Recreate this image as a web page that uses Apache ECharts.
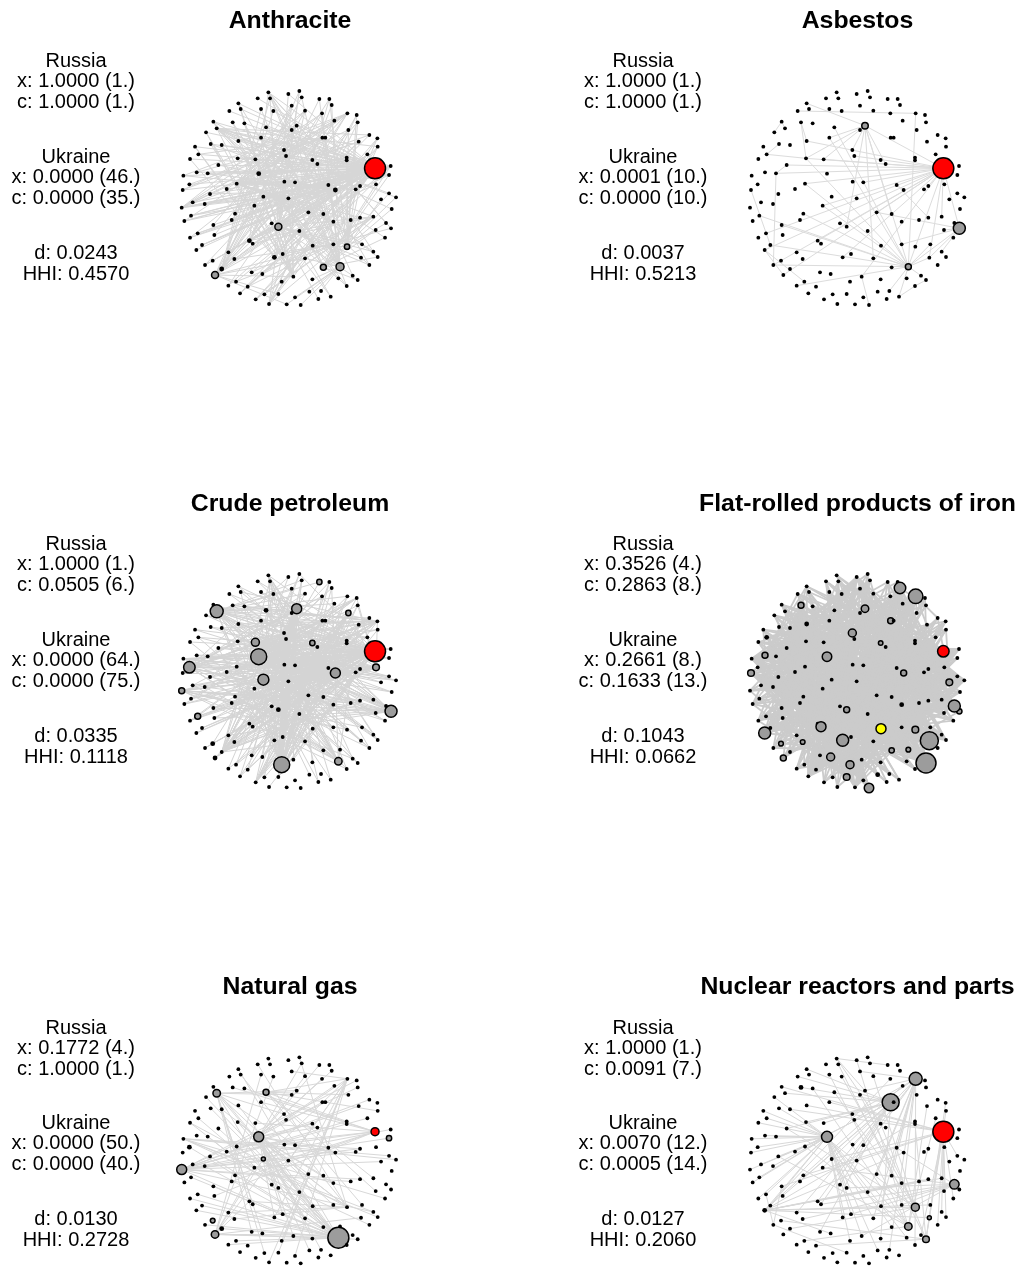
<!DOCTYPE html>
<html>
<head>
<meta charset="utf-8">
<script src="https://cdn.jsdelivr.net/npm/echarts@6/dist/echarts.min.js"></script>
<style>
html,body{margin:0;padding:0;background:#fff}
#chart{width:1020px;height:1271px}
</style>
</head>
<body>
<div id="chart"></div>
<script>
// Shared node layout (same country positions in every product network), layout units 0..690 x 0..684
const nodeXY = [
  [275,22],[368,18],[335,27],[375,37],[243,40],[280,40],[428,42],[458,42],[185,55],[345,62],
  [465,60],[192,72],[253,72],[290,78],[385,77],[158,78],[436,85],[512,85],[540,90],[110,110],
  [168,112],[203,115],[473,107],[543,112],[360,122],[268,127],[120,130],[345,135],[515,135],[88,142],
  [578,150],[602,160],[253,158],[437,158],[446,158],[185,168],[546,170],[102,177],[135,180],[603,185],
  [55,185],[322,195],[65,208],[328,213],[572,208],[183,220],[236,223],[510,218],[510,226],[40,222],
  [407,225],[422,237],[125,240],[642,243],[595,250],[60,262],[93,265],[246,266],[20,272],[637,270],
  [323,290],[355,292],[180,296],[38,298],[455,300],[598,298],[550,303],[476,315],[537,313],[150,312],
  [18,315],[100,327],[260,335],[637,325],[335,340],[658,337],[613,343],[48,352],[84,357],[233,362],
  [15,368],[645,372],[395,382],[175,386],[440,387],[43,392],[550,398],[165,405],[522,405],[590,395],
  [23,408],[470,410],[285,415],[110,420],[305,425],[368,438],[597,435],[643,430],[625,458],[628,414],
  [63,445],[113,450],[40,458],[218,467],[228,476],[470,478],[408,482],[556,478],[76,480],[511,485],
  [59,495],[155,502],[590,500],[318,507],[603,516],[293,517],[553,518],[385,520],[173,522],[108,527],
  [578,540],[85,540],[440,547],[490,545],[135,552],[225,562],[257,567],[115,570],[528,572],[485,580],
  [543,585],[350,575],[407,583],[315,590],[178,590],[155,602],[213,605],[510,603],[190,625],[263,628],
  [305,627],[398,620],[433,618],[462,635],[355,637],[237,643],[277,657],[330,658],[372,660],[425,642]
];

// Product titles and summary statistics
const products = ['Anthracite', 'Asbestos', 'Crude petroleum', 'Flat-rolled products of iron', 'Natural gas', 'Nuclear reactors and parts'];
const russiaX = [1.0000, 1.0000, 1.0000, 0.3526, 0.1772, 1.0000];
const russiaXRank = [1, 1, 1, 4, 4, 1];
const russiaC = [1.0000, 1.0000, 0.0505, 0.2863, 1.0000, 0.0091];
const russiaCRank = [1, 1, 6, 8, 1, 7];
const ukraineX = [0.0000, 0.0001, 0.0000, 0.2661, 0.0000, 0.0070];
const ukraineXRank = [46, 10, 64, 8, 50, 12];
const ukraineC = [0.0000, 0.0000, 0.0000, 0.1633, 0.0000, 0.0005];
const ukraineCRank = [35, 10, 75, 13, 40, 14];
const density = [0.0243, 0.0037, 0.0335, 0.1043, 0.0130, 0.0127];
const hhi = [0.4570, 0.5213, 0.1118, 0.0662, 0.2728, 0.2060];

// Highlighted nodes per product: [node, diameter, kind]  r = Russia, y = Ukraine, g = grey, b = black
const anthraciteNodes = [[54,21,'r'],[94,7,'g'],[123,8,'g'],[122,6,'g'],[109,5.3,'g'],[127,7,'g'],
  [124,4.8,'b'],[57,4.8,'b'],[103,4.8,'b'],[115,4.8,'b'],[67,4.8,'b']];
const asbestosNodes = [[54,21,'r'],[97,12,'g'],[24,6.5,'g'],[123,6,'g']];
const crudeNodes = [[54,21,'r'],[26,13,'g'],[24,10,'g'],[6,5.3,'g'],[28,5.3,'g'],[46,8,'g'],[57,16,'g'],
  [72,11,'g'],[50,5.3,'g'],[67,10,'g'],[65,6.7,'g'],[63,11.5,'g'],[80,6,'g'],[100,6,'g'],[97,12,'g'],
  [133,16,'g'],[129,7.5,'g'],[119,4.8,'b'],[127,4.8,'b'],[25,4.8,'b'],[94,4.8,'b']];
const flatNodes = [[54,11.5,'r'],[106,10,'y'],[10,11.5,'g'],[17,14.5,'g'],[20,6,'g'],[24,7.5,'g'],[33,6,'g'],
  [41,8,'g'],[50,4.5,'g'],[57,9.5,'g'],[55,6,'g'],[70,6.7,'g'],[67,6,'g'],[76,6.7,'g'],[99,12,'g'],
  [97,5.3,'g'],[94,6,'g'],[104,10,'g'],[110,12,'g'],[109,6.7,'g'],[116,18,'g'],[130,20,'g'],[115,12,'g'],
  [118,4.7,'g'],[119,4.7,'g'],[122,5.3,'g'],[123,4.7,'g'],[126,8,'g'],[127,6,'g'],[133,8,'g'],[140,6.7,'g'],
  [148,9.5,'g'],[35,4.8,'b'],[42,4.8,'b'],[91,4.8,'b'],[141,4.8,'b']];
const gasNodes = [[54,8,'r'],[59,5.3,'g'],[26,7.5,'g'],[25,6,'g'],[57,10,'g'],[72,4,'g'],[80,10,'g'],
  [119,4.7,'g'],[127,7.5,'g'],[129,21,'g'],[63,4.8,'b'],[124,4.8,'b']];
const nuclearNodes = [[54,21,'r'],[17,13,'g'],[33,17,'g'],[57,11,'g'],[99,9.5,'g'],[109,8,'g'],[123,7.5,'g'],
  [116,4,'g'],[130,6.7,'g'],[110,4.8,'b'],[20,4.8,'b']];

// Trade links per product: [node, [partners]]
const anthraciteLinks = [
  [54,[0,2,4,8,11,13,15,19,21,25,26,29,32,35,37,38,40,42,45,46,49,52,55,56,57,58,62,63,69,70,71,72,77,78,79,80,83,85,87,90,92,93,94,100,101,102,103,104,108,110,111,113,115,118,119,121,124,125,126,127,131,133,134,136,138,139,145,146]],
  [94,[1,5,9,14,17,22,30,36,44,47,60,64,67,84,89,105,107,112,116,120,128,137,143,149]],
  [123,[3,6,10,16,19,24,27,33,41,43,50,61,74,82,95,117,132,141,142,144,147,148,26,8]],
  [122,[12,20,21,31,39,53,59,65,73,75,81,96,98,114,130]],
  [109,[7,18,23,28,34,48,51,66,68,76,86,88,91,99,106]],
  [127,[9,14,22,36,44,60,61,64,74,84,97,117,131,140,147]],
  [57,[3,17,30,47,67,89,112,129,137,143]],
  [103,[0,6,16,24,33,53,59,65,88]],
  [115,[2,10,18,29,31,39,40,49]],
  [124,[1,5,7,12,13,23,28,41,43]],
  [67,[19,26,37,52,56,58,71,78,80,85,90,102,108,121,135,138]],
  [24,[35,45,62,83,93]],
  [41,[69,87,101,111]],
  [105,[113,118,134,136]],
  [33,[42,55,63,70,77]],
  [89,[104,125,126,139,145,146]],
  [26,[30,39,53,59,73,75,81,98,114,120]],
  [0,[97,99,112,120,128,137]],
  [17,[58,70,80,90,102,121,135]],
  [146,[1,7,18,23,31,39,44]],
  [80,[14,16,22,28,36,53,59]],
  [53,[85,90,100,108,138,145]],
  [62,[9,14,16,22,34,36,47,48,51,60,61,64,66,68,74,82,84,86,88,91]],
  [131,[8,11,19,20,21,27,29,32,35,37,38,40,43]]
];
const asbestosLinks = [
  [54,[46,45,56,52,79,110,127,121,103,131,115,82,61,97,89,116,66,24,43,35,62,100]],
  [123,[32,25,83,121,93,85,54,97,107,116,128,143,142,17,24,135,108,79,45,62]],
  [24,[32,41,45,46,51,84,94,117,8]],
  [97,[96,112,116,105,82]],
  [15,[17]],[56,[121,52]],[42,[37,45]],[110,[127,134]],[20,[35,45]],
  [148,[131]],[137,[130,143]],[19,[26,29]],[64,[67,86]],[70,[108]]
];
const crudeLinks = [
  [54,[0,1,4,8,12,15,19,21,25,26,29,32,35,37,40,42,45,46,49,52,55,56,57,58,60,62,63,69,70,71,72,77,78,79,80,83,85,87,90,93,100,101,102,103,104,108,110,111,113,115,118,119,121,124,125,126,127,131,133,134,135,136,138,139,145,146]],
  [26,[3,6,9,14,17,22,24,30,36,41,44,47,50,61,64,67,74,82,84,86,88,91,95,105,117]],
  [57,[2,7,10,16,18,23,28,31,33,39,43,48,51,53,59,65,66,68,73,75,76,81,89,96,97,98,99,107,109,112,114,116,120]],
  [72,[1,5,6,13,17,22,30,36,44,47,64,67,86,88,105,109,123,128,129,130,137,141,143,149]],
  [133,[0,3,9,11,19,20,24,26,27,32,34,38,41,45,50,52,60,61,74,92,95,106]],
  [67,[8,15,29,37,40,42,55,58,63,70,77,80,85,90,100,102,108,110,121,127]],
  [97,[4,11,12,20,21,25,35,38,45,62,69,71,78,83,87,93,101,103,111]],
  [63,[2,14,16,24,27,33,34,41,43,50,51,61,64,82,84,91,95,117,122]],
  [24,[56,71,79,92,94,104,113,115,118,119,124,125,126,131,132,134,135,136,138,139,140]],
  [46,[39,44,53,59,65,73,75,76,81,89,96,98,99,112,114,116,120,130]],
  [65,[13,18,23,28,31,35,52,56,62,69,72,79,83,87,93,94,103]],
  [129,[10,21,25,32,36,42,46,49,55,57,60,63,74,77,78]],
  [28,[94,104,113,115,124,125,126,127,131,133,134,136,138]],
  [80,[48,66,68,86,88,91,105,107,109,128,137]],
  [145,[3,7,17,18,23,30,31,36,39]],
  [58,[53,59,73,75,81,98,120]],
  [0,[112,114,120,128,137,143,149]],
  [18,[70,77,85,90,100,102]],
  [124,[1,5,9,13,14,22,30,33,36,41,43,47,51,60,61,64,74,82,84,86,88,91,95,117]],
  [31,[11,20,21,25,27,32,35,38,45,52,62,69,71,83,87,92,93,101,103,104,111]],
  [140,[3,7,10,16,17,22,23,27,34,41,43,47,48,50,51,60,64,66,68,74,82,84]]
];
const flatLinks = [
  [54,[0,2,5,8,11,15,19,26,29,37,40,42,49,55,58,63,70,77,80,85,90,100,102,108,110,119,121,127,135,138,145]],
  [106,[1,4,9,12,17,20,24,31,36,39,44,53,59,65,73,75,81,89,96,98,112,114,120,130,137]],
  [130,[3,6,10,13,14,16,21,25,27,32,35,38,41,45,46,52,56,57,62,69,71,78,83,87,93,101]],
  [116,[0,7,11,18,19,22,26,29,33,37,40,47,50,55,60,63,70,72,77,79,85,90,94,100,103,108]],
  [17,[28,30,42,49,58,67,71,74,80,84,92,95,102,104,110,111,115,118,119,124,125,127,133,134,136]],
  [10,[23,34,43,51,61,64,76,82,86,91,99,105,113,117,121,122,126,131,135,138,139,140,145,146,147]],
  [110,[1,2,3,5,8,9,14,16,22,24,27,31,36,39,41,44,48,53,59,65,66,68,73,75,76,81]],
  [99,[4,6,12,13,15,20,21,25,32,35,38,45,46,52,56,57,62,69,78,83,87,93,101,104,111,124]],
  [115,[7,10,17,18,23,28,30,33,34,43,47,48,50,51,53,54,59,61,64,66,68,73,86,88,91]],
  [57,[89,96,97,98,105,107,109,112,114,116,120,122,123,128,129,132,137,141,142,143,144,147,148,149]],
  [104,[2,6,9,14,22,24,27,30,31,36,39,44,60,67,74,82,84,92,95,106,117,131,136,141,149]],
  [148,[8,11,15,19,20,26,29,35,37,40,42,45,49,52,55,58,62,63,69,71,72,77,79,87,92]],
  [126,[1,3,5,10,12,16,18,21,23,28,32,33,34,41,43,47,50,51,60,61,64,67,74,82,84]],
  [41,[70,78,80,85,90,93,100,101,102,103,108,111,113,118,119,121,124,125,127,133,134,135,138,139,140]],
  [24,[4,13,17,38,46,56,65,75,81,86,88,89,91,94,95,96,97,98,99,105,107,109,112,114,116]],
  [67,[0,6,9,12,20,25,27,31,36,44,48,53,57,59,63,66,68,73,76,79,83,85,103,104,110]],
  [76,[2,7,14,17,19,22,26,29,30,33,37,39,42,46,49,52,55,58,62,69,71,72,77,78,80,87]],
  [55,[3,8,10,11,13,15,16,18,23,28,34,35,38,40,43,45,47,50,51,54,60,61,64,65,67,74]],
  [133,[1,5,21,24,31,32,41,44,53,56,59,70,73,75,81,82,84,86,88,89,91,92,94,95,99,100]],
  [70,[96,97,98,105,106,107,109,112,114,116,117,120,122,123,128,129,130,131,132,137,141,142,143,144,149]],
  [20,[57,62,66,68,71,72,78,79,83,87,90,93,101,102,108,111,113,115,118,119,121,124,125,127,134]],
  [140,[4,9,12,14,20,22,25,27,30,36,39,42,48,52,63,66,69,76,77,80,85,90,97,100,102]],
  [123,[0,2,6,7,11,15,19,26,29,33,37,40,49,55,58,70,71,79,93,101,108,110,119,121,135]],
  [35,[98,103,104,105,107,109,112,114,120,122,128,129,130,132,136,137,138,139,141,142,143,144,145,146,147]],
  [53,[52,56,62,69,72,78,83,87,92,94,100,102,103,111,113,118,124,125,126,127,131,133,134,136,138]],
  [138,[3,5,8,10,13,16,18,21,23,28,31,34,43,47,50,51,61,64,68,75,84,86,88,91,96]],
  [58,[1,6,7,18,31,39,53,75,81,98,114,120,137,143,149]],
  [75,[0,4,8,15,19,29,40,49,80,90,102,121,135,145,146,147]],
  [2,[70,80,90,102,110,121,135,138,145,146,98,114,120]],
  [147,[4,8,15,19,29,40,49,53,39,31,18,7,6]]
];
const gasLinks = [
  [129,[8,19,26,29,35,37,42,45,49,52,56,63,71,78,80,85,93,100,102,108,110,121,124,127,134,135]],
  [57,[3,6,10,14,16,22,33,50,51,64,67,82,84,91,95,105,106,117,122,131,132,141,142,115,113,94]],
  [80,[18,23,30,36,44,47,53,59,66,68,76,86,88,112]],
  [26,[24,27,41,61,74,92,104,125,126,139]],
  [25,[17,28,39,47,89,96,107]],
  [54,[20,21,32,46,62,69,83,87,101]],
  [127,[12,13,60,72,79,103,116,128,130]],
  [17,[9,43,72,74,92,115,133,140,146,144]],
  [58,[66,73,75,98,112,114,120]],
  [109,[1,4,11,38,45,49,103,111,118]]
];
const nuclearLinks = [
  [57,[29,37,40,42,49,55,56,58,63,70,71,77,78,80,85,90,94,100,102,108,110,113,115,117,122,123,129,131,133,141]],
  [33,[8,15,20,26,45,46,52,62,69,79,87,92,101,103,104,111,125,132]],
  [17,[9,24,41,43,60,61,64,74,82,84,95,105,106,117,137,142]],
  [54,[19,32,35,38,72,83,93,96,98,112,114,120,128,130,73]],
  [110,[16,22,47,67,86,88,89,91,107,109,116,126]],
  [99,[64,79,94,104,105,113,118,131]],
  [109,[13,14,25,27,45,52,124]],
  [123,[2,12,21,36,44,62,71,134]],
  [130,[5,31,39,48,50,119,136]],
  [0,[6,24,50]],
  [121,[93,100,140]]
];

const panelNodes = [anthraciteNodes, asbestosNodes, crudeNodes, flatNodes, gasNodes, nuclearNodes];
const panelLinks = [anthraciteLinks, asbestosLinks, crudeLinks, flatLinks, gasLinks, nuclearLinks];

// Page geometry and styling
const colGraphLeft = [176.7, 745];
const colTextX = [76, 643];
const colTitleX = [290, 857.5];
const rowTop = [0, 483, 966.5];
const edgeWidth = [1, 1, 1, 1.8, 1, 1];
const edgeColor = ['#d6d6d6', '#dcdcdc', '#d4d4d4', '#cbcbcb', '#d8d8d8', '#d8d8d8'];
const fills = { r: '#ff0000', y: '#ffff00', g: '#9c9c9c', b: '#000000' };
const FONT = '"Liberation Sans", Arial, Helvetica, sans-serif';

function buildNodes(special) {
  const byIdx = {};
  special.forEach(s => { byIdx[s[0]] = s; });
  return nodeXY.map((p, k) => {
    const s = byIdx[k];
    if (!s) {
      return { value: [p[0], p[1]], symbolSize: 3.8, itemStyle: { color: '#000', borderWidth: 0 } };
    }
    return {
      value: [p[0], p[1]],
      symbolSize: s[1],
      itemStyle: { color: fills[s[2]], borderColor: '#000', borderWidth: s[2] === 'b' ? 0 : 1.5 }
    };
  });
}
function buildLinks(adj) {
  const out = [];
  adj.forEach(([s, ts]) => ts.forEach(t => { if (t !== s) out.push({ source: s, target: t }); }));
  return out;
}
function fmt(v, r) { return v.toFixed(4) + ' (' + r + '.)'; }

const grids = [], xAxes = [], yAxes = [], series = [], graphics = [];
products.forEach((name, i) => {
  const col = i % 2, row = Math.floor(i / 2);
  const y0 = rowTop[row];
  grids.push({ left: colGraphLeft[col], top: 85 + y0, width: 230, height: 228 });
  xAxes.push({ gridIndex: i, type: 'value', min: 0, max: 690, show: false });
  yAxes.push({ gridIndex: i, type: 'value', min: 0, max: 684, inverse: true, show: false });
  series.push({
    type: 'graph',
    coordinateSystem: 'cartesian2d',
    xAxisIndex: i,
    yAxisIndex: i,
    layout: 'none',
    symbol: 'circle',
    silent: true,
    animation: false,
    edgeSymbol: ['none', 'none'],
    data: buildNodes(panelNodes[i]),
    links: buildLinks(panelLinks[i]),
    lineStyle: { color: edgeColor[i], width: edgeWidth[i], opacity: 1, curveness: 0 },
    emphasis: { disabled: true }
  });

  graphics.push({
    type: 'text', x: colTitleX[col], y: 21 + y0,
    style: { text: name, font: 'bold 24.8px ' + FONT, fill: '#000', align: 'center', verticalAlign: 'middle', textAlign: 'center', textVerticalAlign: 'middle' }
  });
  const lines = [
    ['Russia', 61.5], ['x: ' + fmt(russiaX[i], russiaXRank[i]), 81.5], ['c: ' + fmt(russiaC[i], russiaCRank[i]), 102.5],
    ['Ukraine', 157], ['x: ' + fmt(ukraineX[i], ukraineXRank[i]), 177], ['c: ' + fmt(ukraineC[i], ukraineCRank[i]), 198],
    ['d: ' + density[i].toFixed(4), 253], ['HHI: ' + hhi[i].toFixed(4), 274]
  ];
  lines.forEach(([t, yy]) => {
    graphics.push({
      type: 'text', x: colTextX[col], y: yy + y0,
      style: { text: t, font: '20px ' + FONT, fill: '#000', align: 'center', verticalAlign: 'middle', textAlign: 'center', textVerticalAlign: 'middle' }
    });
  });
});

const chart = echarts.init(document.getElementById('chart'), null, { renderer: 'canvas' });
chart.setOption({
  backgroundColor: '#ffffff',
  animation: false,
  grid: grids,
  xAxis: xAxes,
  yAxis: yAxes,
  series: series,
  graphic: { elements: graphics }
});
</script>
</body>
</html>
